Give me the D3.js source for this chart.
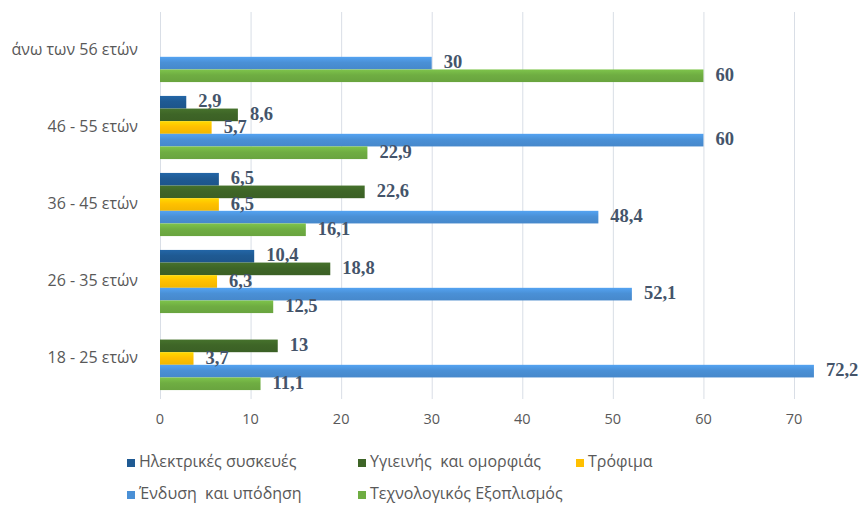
<!DOCTYPE html>
<html><head><meta charset="utf-8">
<script src="https://cdn.jsdelivr.net/npm/d3@7/dist/d3.min.js"></script>
<style>
html,body{margin:0;padding:0;background:#fff;}
svg{display:block;}
</style></head>
<body>
<svg id="chart" width="862" height="508"></svg>
<script>
const categories = ["άνω των 56 ετών", "46 - 55 ετών", "36 - 45 ετών", "26 - 35 ετών", "18 - 25 ετών"];
const seriesNames = ["Ηλεκτρικές συσκευές", "Υγιεινής  και ομορφιάς", "Τρόφιμα", "Ένδυση  και υπόδηση", "Τεχνολογικός Εξοπλισμός"];
const electrical = [null, 2.9, 6.5, 10.4, null];
const hygiene    = [null, 8.6, 22.6, 18.8, 13];
const food       = [null, 5.7, 6.5, 6.3, 3.7];
const clothing   = [30, 60, 48.4, 52.1, 72.2];
const tech       = [60, 22.9, 16.1, 12.5, 11.1];
const xTicks = [0, 10, 20, 30, 40, 50, 60, 70];
const colors = ["#1F5A93", "#3E6527", "#FFC000", "#4A90D6", "#6FAD42"];
const seriesValues = [electrical, hygiene, food, clothing, tech];

const svg = d3.select("#chart");
const plotTop = 12, plotBottom = 397;
const x = d3.scaleLinear().domain([0, 70]).range([160, 794]);
const y0 = d3.scaleBand().domain(categories).range([plotTop, plotBottom]).paddingInner(0.18).paddingOuter(0.09);
const y1 = d3.scaleBand().domain(d3.range(seriesNames.length)).range([0, y0.bandwidth()]);

// gradients
const defs = svg.append("defs");
colors.forEach((c, i) => {
  const g = defs.append("linearGradient").attr("id", "g" + i).attr("x1", 0).attr("y1", 0).attr("x2", 0).attr("y2", 1);
  g.append("stop").attr("offset", "0%").attr("stop-color", d3.color(c).brighter(0.35));
  g.append("stop").attr("offset", "45%").attr("stop-color", c);
  g.append("stop").attr("offset", "100%").attr("stop-color", d3.color(c).darker(0.15));
});

// gridlines
svg.append("g").selectAll("line").data(xTicks).join("line")
  .attr("x1", d => x(d) + 0.5).attr("x2", d => x(d) + 0.5)
  .attr("y1", plotTop).attr("y2", plotBottom + 2)
  .attr("stroke", "#D9DEE6").attr("stroke-width", 1);

// tick labels
svg.append("g").selectAll("text").data(xTicks).join("text")
  .attr("x", d => x(d)).attr("y", 420)
  .attr("text-anchor", "middle").attr("dominant-baseline", "middle")
  .attr("font-family", "'Open Sans', sans-serif").attr("font-size", 14.5)
  .attr("fill", "#595959").text(d => d);

// category labels
svg.append("g").selectAll("text").data(categories).join("text")
  .attr("x", 138).attr("y", d => y0(d) + y0.bandwidth() / 2)
  .attr("text-anchor", "end").attr("dominant-baseline", "middle")
  .attr("font-family", "'Open Sans', sans-serif").attr("font-size", 16)
  .attr("fill", "#595959").text(d => d);

// bars
const rows = [];
categories.forEach((c, ci) => {
  seriesValues.forEach((vals, si) => {
    if (vals[ci] !== null) rows.push({cat: c, s: si, v: vals[ci]});
  });
});
const bars = svg.append("g");
bars.selectAll("rect").data(rows).join("rect")
  .attr("x", x(0)).attr("y", d => y0(d.cat) + y1(d.s))
  .attr("width", d => x(d.v) - x(0)).attr("height", y1.bandwidth())
  .attr("fill", d => "url(#g" + d.s + ")");

// data labels
svg.append("g").selectAll("text").data(rows).join("text")
  .attr("x", d => x(d.v) + 12).attr("y", d => y0(d.cat) + y1(d.s) + y1.bandwidth() / 2 + 1)
  .attr("dominant-baseline", "middle")
  .attr("font-family", "'Liberation Serif', 'Times New Roman', serif").attr("font-weight", "bold")
  .attr("font-size", 18.5).attr("fill", "#44546A")
  .text(d => String(d.v).replace(".", ","));

// legend
const legendPos = [[127, 463], [358, 463], [576, 463], [127, 495], [358, 495]];
const lg = svg.append("g").selectAll("g").data(seriesNames).join("g")
  .attr("transform", (d, i) => `translate(${legendPos[i][0]},${legendPos[i][1]})`);
lg.append("rect").attr("x", 0).attr("y", -4).attr("width", 8).attr("height", 8)
  .attr("fill", (d, i) => colors[i]);
lg.append("text").attr("x", 12).attr("y", 0).attr("dominant-baseline", "middle")
  .attr("font-family", "'Open Sans', sans-serif").attr("font-size", 16)
  .attr("fill", "#595959").attr("xml:space", "preserve").style("white-space", "pre").text(d => d);
</script>
</body></html>
